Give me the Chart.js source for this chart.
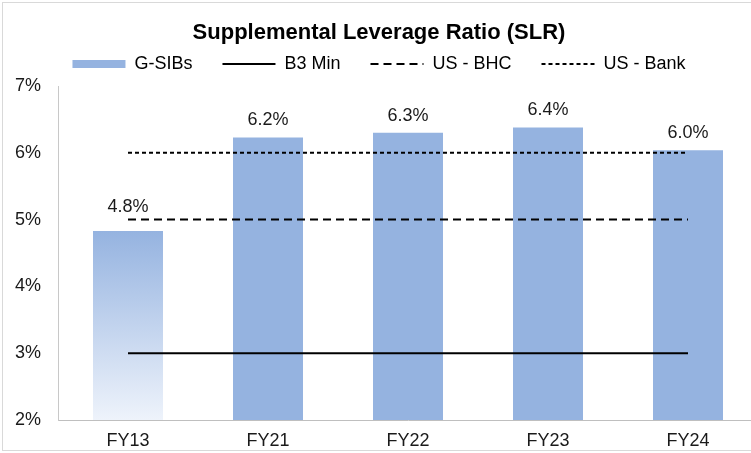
<!DOCTYPE html>
<html><head><meta charset="utf-8">
<script src="https://cdn.jsdelivr.net/npm/chart.js@4.4.1/dist/chart.umd.min.js"></script>
<style>html,body{margin:0;padding:0;overflow:hidden;background:#fff}canvas{display:block}</style>
</head><body>
<canvas id="c" width="762" height="453"></canvas>
<script>
const categories = ['FY13', 'FY21', 'FY22', 'FY23', 'FY24'];
const gsibs = [4.83, 6.23, 6.30, 6.38, 6.04];
const b3Min = [3, 3, 3, 3, 3];
const usBhc = [5, 5, 5, 5, 5];
const usBank = [6, 6, 6, 6, 6];
const seriesNames = ['G-SIBs', 'B3 Min', 'US - BHC', 'US - Bank'];
const yMin = 2, yMax = 7, yStep = 1;
const chartTitle = 'Supplemental Leverage Ratio (SLR)';

const BAR = '#95b3e0';
const FADE = '#eef3fb';
const FONT = "'Liberation Sans', Arial, sans-serif";
Chart.defaults.font.family = FONT;
Chart.defaults.color = '#000';

const borderPlugin = {
  id: 'outerBorder',
  beforeDraw(chart) {
    const c = chart.ctx;
    c.save();
    c.fillStyle = '#fff';
    c.fillRect(0, 0, chart.width, chart.height);
    c.strokeStyle = '#d9d9d9';
    c.lineWidth = 1;
    c.strokeRect(2.5, 2.5, chart.width - 5, chart.height - 5);
    c.restore();
  }
};

const legendFitPlugin = {
  id: 'legendFit',
  afterInit(chart) {
    const lg = chart.legend;
    if (!lg) return;
    const orig = lg.fit;
    lg.fit = function () { orig.call(this); this.height = 61; };
  }
};

const dataLabelPlugin = {
  id: 'dataLabels',
  afterDatasetsDraw(chart) {
    const meta = chart.getDatasetMeta(0);
    const c = chart.ctx;
    c.save();
    c.font = '18px ' + FONT;
    c.fillStyle = '#1a1a1a';
    c.textAlign = 'center';
    c.textBaseline = 'middle';
    meta.data.forEach((el, i) => {
      const v = chart.data.datasets[0].data[i];
      const off = i === 0 ? 24 : 17;
      c.fillText(v.toFixed(1) + '%', el.x, el.y - off);
    });
    c.restore();
  }
};

new Chart(document.getElementById('c'), {
  type: 'bar',
  data: {
    labels: categories,
    datasets: [
      {
        label: seriesNames[0],
        data: gsibs,
        order: 1,
        backgroundColor: (ctx) => {
          if (ctx.type !== 'data' || ctx.dataIndex !== 0) return BAR;
          const chart = ctx.chart;
          const area = chart.chartArea;
          if (!area || !chart.scales.y) return BAR;
          const top = chart.scales.y.getPixelForValue(ctx.raw);
          const g = chart.ctx.createLinearGradient(0, top, 0, area.bottom);
          g.addColorStop(0, BAR);
          g.addColorStop(1, FADE);
          return g;
        },
        borderWidth: 0,
        barPercentage: 0.5,
        categoryPercentage: 1.0
      },
      { type: 'line', label: seriesNames[1], data: b3Min, order: 0, borderColor: '#000', borderWidth: 2, pointRadius: 0, fill: false, tension: 0 },
      { type: 'line', label: seriesNames[2], data: usBhc, order: 0, borderColor: '#000', borderWidth: 2, borderDash: [8, 5], pointRadius: 0, fill: false, tension: 0 },
      { type: 'line', label: seriesNames[3], data: usBank, order: 0, borderColor: '#000', borderWidth: 2, borderDash: [4, 3], pointRadius: 0, fill: false, tension: 0 }
    ]
  },
  options: {
    responsive: false,
    animation: false,
    events: [],
    devicePixelRatio: 1,
    layout: { padding: { left: 0, right: 4, top: 0, bottom: 0 } },
    plugins: {
      tooltip: { enabled: false },
      title: {
        display: true,
        text: chartTitle,
        color: '#000',
        font: { size: 22, weight: 'bold', lineHeight: 1.2 },
        padding: { top: 20, bottom: -21.4 }
      },
      legend: {
        display: true,
        position: 'top',
        labels: {
          usePointStyle: true,
          pointStyleWidth: 53,
          boxHeight: 8,
          padding: 30,
          color: '#000',
          font: { size: 18 },
          generateLabels: () => [
            { text: seriesNames[0], fillStyle: BAR, strokeStyle: BAR, lineWidth: 0, pointStyle: 'rect', datasetIndex: 0, hidden: false },
            { text: seriesNames[1], fillStyle: '#000', strokeStyle: '#000', lineWidth: 2, lineDash: [], pointStyle: 'line', datasetIndex: 1, hidden: false },
            { text: seriesNames[2], fillStyle: '#000', strokeStyle: '#000', lineWidth: 2, lineDash: [8, 5], pointStyle: 'line', datasetIndex: 2, hidden: false },
            { text: seriesNames[3], fillStyle: '#000', strokeStyle: '#000', lineWidth: 2, lineDash: [4, 3], pointStyle: 'line', datasetIndex: 3, hidden: false }
          ]
        }
      }
    },
    scales: {
      x: {
        offset: true,
        grid: { display: false },
        border: { display: true, color: '#bfbfbf', width: 1 },
        ticks: { font: { size: 18 }, color: '#1a1a1a', padding: 2 },
        afterFit: (s) => { s.height = 33; }
      },
      y: {
        min: yMin,
        max: yMax,
        grid: { display: false },
        border: { display: true, color: '#c8c8c8', width: 1 },
        ticks: { stepSize: yStep, font: { size: 18 }, color: '#1a1a1a', padding: 9, callback: (v) => v + '%' },
        afterFit: (s) => { s.width = 58; }
      }
    }
  },
  plugins: [borderPlugin, legendFitPlugin, dataLabelPlugin]
});
</script>
</body></html>
